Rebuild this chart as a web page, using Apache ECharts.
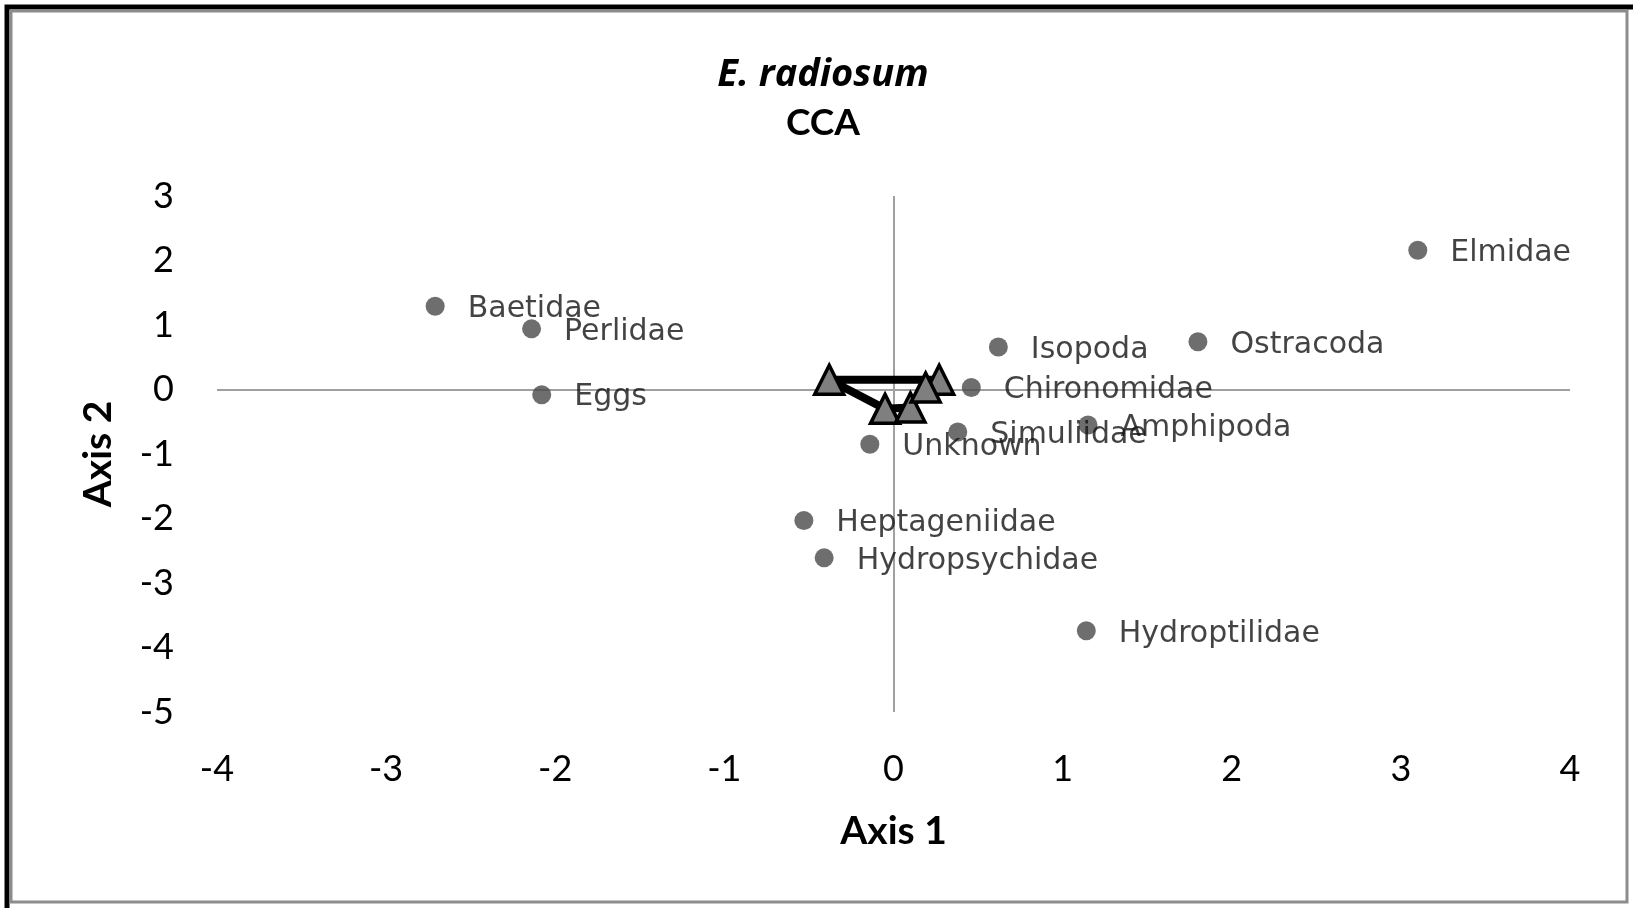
<!DOCTYPE html>
<html>
<head>
<meta charset="utf-8">
<script src="https://cdn.jsdelivr.net/npm/echarts@6/dist/echarts.min.js"></script>
<style>
  html, body { margin: 0; padding: 0; background: #fff; }
  #chart { width: 1633px; height: 908px; }
</style>
</head>
<body>
<div id="chart"></div>
<script>
// taxa scores (axis 1, axis 2)
var taxa = ['Elmidae', 'Baetidae', 'Perlidae', 'Eggs', 'Isopoda', 'Ostracoda', 'Chironomidae',
  'Simuliidae', 'Amphipoda', 'Unknown', 'Heptageniidae', 'Hydropsychidae', 'Hydroptilidae']
var taxaX = [3.10, -2.71, -2.14, -2.08, 0.62, 1.80, 0.46, 0.38, 1.15, -0.14, -0.53, -0.41, 1.14]
var taxaY = [2.16, 1.29, 0.94, -0.08, 0.66, 0.74, 0.03, -0.66, -0.55, -0.85, -2.03, -2.61, -3.74]

// environmental vectors (triangles, joined by a line)
var envX = [0.27, -0.38, -0.05, 0.10, 0.19]
var envY = [0.15, 0.15, -0.30, -0.28, 0.03]

var xTicks = [-4, 4, 1]
var yTicks = [-5, 3, 1]

var labelFont = 'Lato, "Open Sans", sans-serif'

var chart = echarts.init(document.getElementById('chart'))

var taxaData = taxa.map(function (n, i) {
  return { name: n, value: [taxaX[i], taxaY[i]] }
})
var envData = envX.map(function (x, i) {
  return [x, envY[i]]
})

chart.setOption({
  animation: false,
  backgroundColor: '#fff',
  graphic: [
    // outer frame: black then grey
    {
      type: 'rect',
      shape: { x: 7, y: 7, width: 1630, height: 905 },
      style: { fill: null, stroke: '#000', lineWidth: 5 }
    },
    {
      type: 'rect',
      shape: { x: 11, y: 11, width: 1616, height: 891 },
      style: { fill: null, stroke: '#8c8c8c', lineWidth: 3 }
    }
  ],
  title: [
    {
      text: 'E. radiosum',
      left: 818,
      top: 51,
      textAlign: 'center',
      textStyle: { fontFamily: '"Open Sans", sans-serif', fontSize: 38, fontWeight: 'bold', fontStyle: 'italic', color: '#000' }
    },
    {
      text: 'CCA',
      left: 818,
      top: 100,
      textAlign: 'center',
      textStyle: { fontFamily: labelFont, fontSize: 37, fontWeight: 'bold', color: '#000' }
    }
  ],
  grid: {
    left: 217,
    right: 63,
    top: 196,
    bottom: 196
  },
  xAxis: {
    type: 'value',
    min: xTicks[0],
    max: xTicks[1],
    interval: xTicks[2],
    name: 'Axis 1',
    nameLocation: 'middle',
    nameGap: 100,
    nameTextStyle: { fontFamily: labelFont, fontSize: 39, fontWeight: 'bold', color: '#000' },
    axisLine: { show: false, onZero: false },
    axisTick: { show: false },
    splitLine: { show: false },
    axisLabel: { margin: 39, fontFamily: labelFont, fontSize: 36, color: '#000' }
  },
  yAxis: {
    type: 'value',
    min: yTicks[0],
    max: yTicks[1],
    interval: yTicks[2],
    name: 'Axis 2',
    nameLocation: 'middle',
    nameGap: 99,
    nameTextStyle: { fontFamily: labelFont, fontSize: 39, fontWeight: 'bold', color: '#000' },
    axisLine: { show: false, onZero: false },
    axisTick: { show: false },
    splitLine: { show: false },
    axisLabel: { margin: 43, fontFamily: labelFont, fontSize: 36, color: '#000' }
  },
  series: [
    {
      type: 'scatter',
      data: taxaData,
      symbolSize: 19,
      itemStyle: { color: '#4a4a4a' },
      label: {
        show: true,
        position: 'right',
        distance: 23,
        offset: [0, 3],
        formatter: '{b}',
        fontFamily: '"DejaVu Sans", sans-serif',
        fontSize: 30,
        color: '#141414'
      },
      markLine: {
        silent: true,
        symbol: 'none',
        label: { show: false },
        lineStyle: { color: '#a0a0a0', width: 2, type: 'solid' },
        data: [{ xAxis: 0 }, { yAxis: 0 }],
        z: 1
      },
      z: 3
    },
    {
      type: 'line',
      data: envData,
      symbol: 'triangle',
      symbolSize: 29,
      showAllSymbol: true,
      lineStyle: { color: '#000', width: 8 },
      itemStyle: { color: '#7f7f7f', borderColor: '#000', borderWidth: 3.5 },
      z: 4
    }
  ]
})
</script>
</body>
</html>
